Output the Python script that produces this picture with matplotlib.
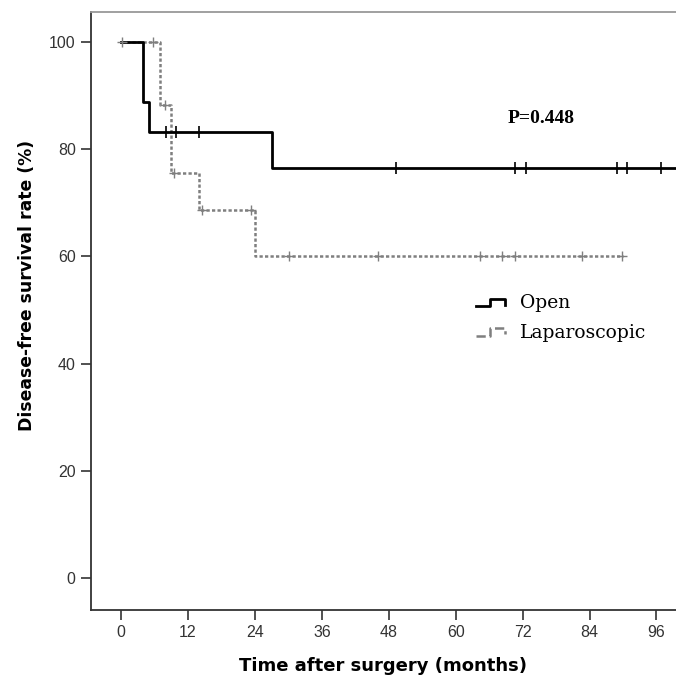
import numpy as np
import matplotlib
matplotlib.use("Agg")
import matplotlib.pyplot as plt
from matplotlib.lines import Line2D
from matplotlib.legend_handler import HandlerBase

# Kaplan-Meier steps
open_t = [0, 4, 5, 27, 100]
open_s = [100, 88.9, 83.3, 76.4, 76.4]
open_cens = [8.0, 9.9, 14.0, 49.3, 70.6, 72.6, 88.9, 90.7, 96.8]

lap_t = [0, 7, 9, 14, 24, 90]
lap_s = [100, 88.2, 75.6, 68.7, 60.0, 60.0]
lap_cens = [0.2, 5.8, 7.8, 9.5, 14.5, 23.3, 30.1, 46.1, 64.4, 68.3, 70.6, 82.6, 89.9]

xticks = [0, 12, 24, 36, 48, 60, 72, 84, 96]
yticks = [0, 20, 40, 60, 80, 100]


def surv_at(times, surv, t):
    i = np.searchsorted(times, t, side="right") - 1
    return np.asarray(surv)[i]


class StepHandler(HandlerBase):
    # little step icon like the SPSS legend
    def create_artists(self, legend, orig_handle, xdescent, ydescent,
                       width, height, fontsize, trans):
        xs = np.array([0, 0.5, 0.5, 1, 1]) * width - xdescent
        ys = np.array([0.15, 0.15, 0.75, 0.75, 0.25]) * height - ydescent
        line = Line2D(xs, ys, color=orig_handle.get_color(),
                      lw=orig_handle.get_linewidth(),
                      linestyle=orig_handle.get_linestyle())
        line.set_transform(trans)
        return [line]


fig = plt.figure(figsize=(6.76, 6.79), dpi=100)
ax = fig.add_axes([0.1346, 0.1016, 0.8654, 0.8807])

lap_col = "#7f7f7f"
lap_ls = (0, (1.3, 0.9))
ax.step(open_t, open_s, where="post", color="black", lw=2.0, zorder=3)
ax.step(lap_t, lap_s, where="post", color=lap_col, lw=1.8, linestyle=lap_ls, zorder=2)
ax.plot(open_cens, surv_at(open_t, open_s, open_cens), ls="none",
        marker="|", ms=8, mew=1.2, color="black", zorder=4)
ax.plot(lap_cens, surv_at(lap_t, lap_s, lap_cens), ls="none",
        marker="+", ms=7, mew=1.0, color=lap_col, zorder=4)

ax.set_xlim(-5.4, 99.5)
ax.set_ylim(-6.0, 105.6)
ax.set_xticks(xticks)
ax.set_yticks(yticks)

tick_font = ["Liberation Sans Narrow", "Liberation Sans", "DejaVu Sans"]
for lab in ax.get_xticklabels() + ax.get_yticklabels():
    lab.set_family(tick_font)
    lab.set_fontsize(11.5)
    lab.set_color("#333333")
ax.tick_params(direction="out", length=7, width=1.2, color="#333333", pad=4)

for s in ["left", "bottom"]:
    ax.spines[s].set_color("#333333")
    ax.spines[s].set_linewidth(1.3)
ax.spines["top"].set_color("#999999")
ax.spines["top"].set_linewidth(1.3)
ax.spines["right"].set_visible(False)

ax.set_xlabel("Time after surgery (months)", fontsize=13, fontweight="bold",
              family="DejaVu Sans", labelpad=12)
ax.set_ylabel("Disease-free survival rate (%)", fontsize=12.4, fontweight="bold",
              family="DejaVu Sans")
ax.yaxis.set_label_coords(-0.094, 0.542)

ax.text(69.4, 85.8, "P=0.448", fontsize=14, family="Liberation Serif",
        fontweight="bold", ha="left", va="center")

handles = [Line2D([], [], color="black", lw=2.0),
           Line2D([], [], color=lap_col, lw=1.8, linestyle=lap_ls)]
ax.legend(handles, ["Open", "Laparoscopic"], loc="upper left",
          bbox_to_anchor=(0.63, 0.556), frameon=False,
          prop={"family": "DejaVu Serif", "size": 13.5},
          handlelength=1.5, handletextpad=0.8, labelspacing=0.6,
          handler_map={Line2D: StepHandler()})

fig.savefig("out.png", dpi=100)
